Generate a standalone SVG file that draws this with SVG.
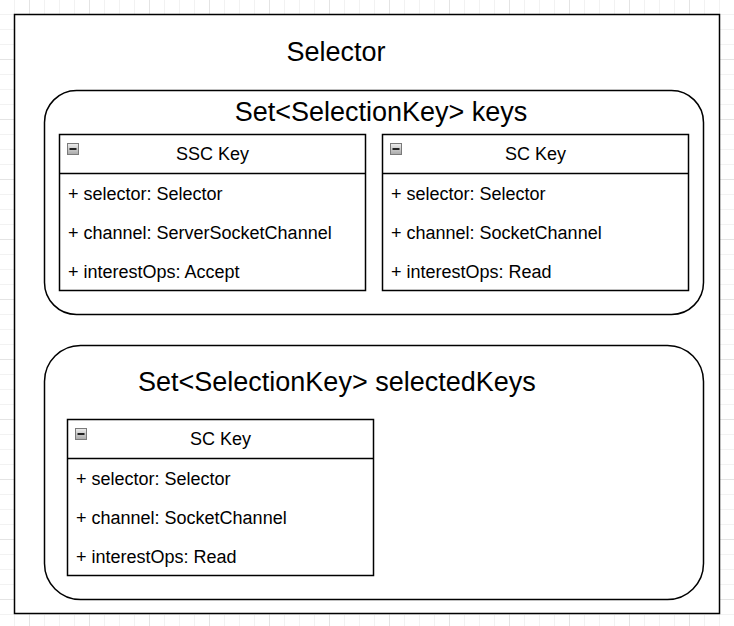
<svg xmlns="http://www.w3.org/2000/svg" width="734" height="626" viewBox="0 0 734 626">
  <style>
    .frame { fill: #ffffff; stroke: #000000; stroke-width: 1.5; }
    .cls { fill: #ffffff; stroke: #000000; stroke-width: 1.5; }
    .sep { stroke: #000000; stroke-width: 1.5; }
    .title { font-family: "Liberation Sans", Arial, sans-serif; font-size: 27px; fill: #000000; }
    .hdr { font-family: "Liberation Sans", Arial, sans-serif; font-size: 18px; fill: #000000; text-anchor: middle; }
    .row { font-family: "Liberation Sans", Arial, sans-serif; font-size: 18px; fill: #000000; }
  </style>
  <defs>
    <pattern id="grid" patternUnits="userSpaceOnUse" x="29" y="-1" width="60" height="60">
      <rect x="0" y="0" width="60" height="60" fill="#ffffff"/>
      <rect x="15" y="0" width="1" height="60" fill="#f2f2f2"/>
      <rect x="30" y="0" width="1" height="60" fill="#f2f2f2"/>
      <rect x="45" y="0" width="1" height="60" fill="#f2f2f2"/>
      <rect x="0" y="15" width="60" height="1" fill="#f2f2f2"/>
      <rect x="0" y="30" width="60" height="1" fill="#f2f2f2"/>
      <rect x="0" y="45" width="60" height="1" fill="#f2f2f2"/>
      <rect x="0" y="0" width="1" height="60" fill="#e4e4e4"/>
      <rect x="0" y="0" width="60" height="1" fill="#e4e4e4"/>
    </pattern>
    <linearGradient id="icoGrad" x1="0" y1="0" x2="0" y2="1">
      <stop offset="0" stop-color="#eeeeee"/>
      <stop offset="1" stop-color="#a8a8a8"/>
    </linearGradient>
    <g id="collapse">
      <rect x="0.5" y="0.5" width="11" height="11" fill="url(#icoGrad)" stroke="#7a7a7a" stroke-width="1"/>
      <rect x="2.5" y="5" width="7" height="2" fill="#222222"/>
    </g>
  </defs>

  <rect x="0" y="0" width="734" height="626" fill="url(#grid)"/>

  <g id="selector">
    <rect class="frame" x="14.5" y="14.5" width="705" height="599"/>
    <text class="title" x="336" y="61" text-anchor="middle">Selector</text>
  </g>

  <g id="keys">
    <rect class="frame" x="44.5" y="90.5" width="659" height="224" rx="32" ry="32"/>
    <text class="title" x="381" y="121" text-anchor="middle">Set&lt;SelectionKey&gt; keys</text>
  </g>

  <g id="selectedKeys">
    <rect class="frame" x="44.5" y="345.5" width="659" height="254" rx="36" ry="36"/>
    <text class="title" x="138" y="391">Set&lt;SelectionKey&gt; selectedKeys</text>
  </g>

  <g id="ssc-key">
    <rect class="cls" x="59.5" y="134.5" width="306" height="156"/>
    <line class="sep" x1="59.5" y1="173.5" x2="365.5" y2="173.5"/>
    <use href="#collapse" x="67" y="143"/>
    <text class="hdr" x="212.5" y="159.5">SSC Key</text>
    <text class="row" x="68" y="199.5">+ selector: Selector</text>
    <text class="row" x="68" y="238.5">+ channel: ServerSocketChannel</text>
    <text class="row" x="68" y="277.5">+ interestOps: Accept</text>
  </g>

  <g id="sc-key">
    <rect class="cls" x="382.5" y="134.5" width="306" height="156"/>
    <line class="sep" x1="382.5" y1="173.5" x2="688.5" y2="173.5"/>
    <use href="#collapse" x="390" y="143"/>
    <text class="hdr" x="535.5" y="159.5">SC Key</text>
    <text class="row" x="391" y="199.5">+ selector: Selector</text>
    <text class="row" x="391" y="238.5">+ channel: SocketChannel</text>
    <text class="row" x="391" y="277.5">+ interestOps: Read</text>
  </g>

  <g id="sc-key-selected">
    <rect class="cls" x="67.5" y="419.5" width="306" height="156"/>
    <line class="sep" x1="67.5" y1="458.5" x2="373.5" y2="458.5"/>
    <use href="#collapse" x="75" y="428"/>
    <text class="hdr" x="220.5" y="444.5">SC Key</text>
    <text class="row" x="76" y="484.5">+ selector: Selector</text>
    <text class="row" x="76" y="523.5">+ channel: SocketChannel</text>
    <text class="row" x="76" y="562.5">+ interestOps: Read</text>
  </g>

  <g id="connectors"></g>
</svg>
